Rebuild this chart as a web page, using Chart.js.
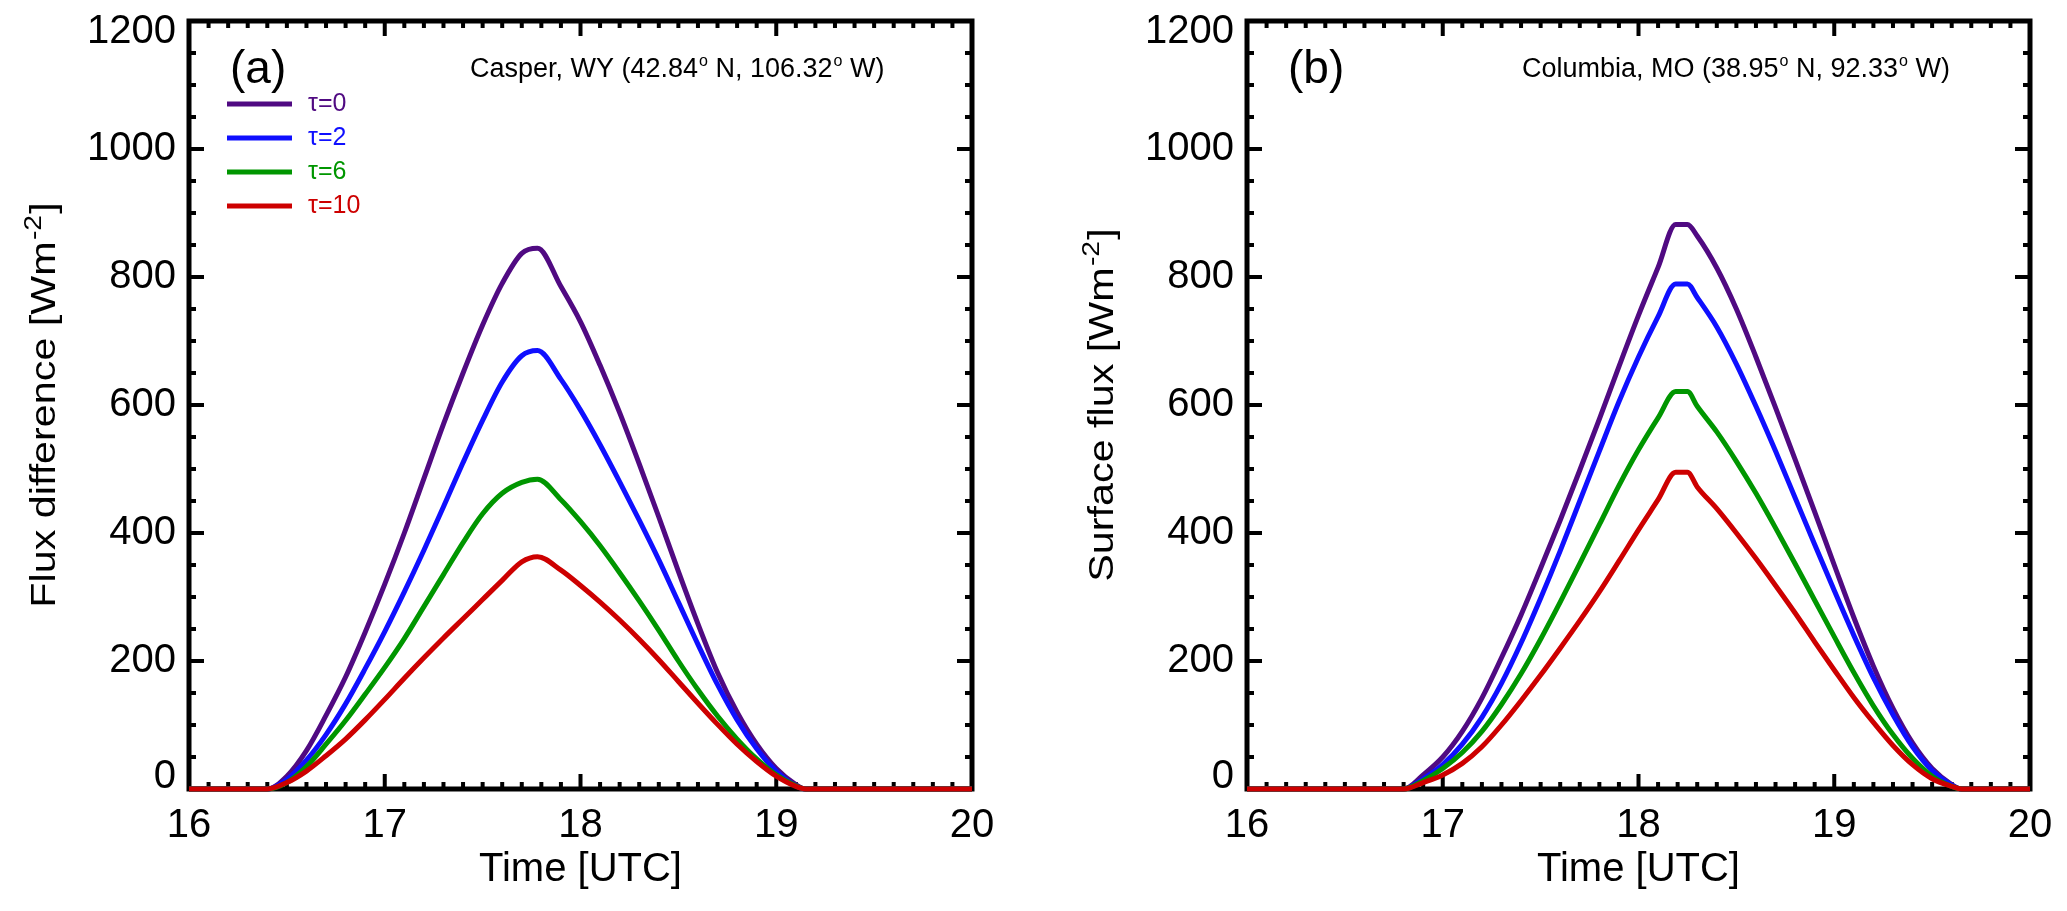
<!DOCTYPE html>
<html>
<head>
<meta charset="utf-8">
<style>
  body { margin: 0; background: #fff; width: 2067px; height: 911px; overflow: hidden; position: relative; }
  .panel { position: absolute; top: 0; width: 1009px; height: 911px; }
</style>
</head>
<body>
<div class="panel" style="left:0"><canvas id="chartA"></canvas></div>
<div class="panel" style="left:1058px"><canvas id="chartB"></canvas></div>

<script src="https://cdn.jsdelivr.net/npm/chart.js"></script>
<script>
  // (a) Casper, WY
  const hoursA  = [16, 16.4, 16.5, 16.6, 16.7, 16.8, 16.9, 17.0, 17.1, 17.2, 17.3, 17.4, 17.5, 17.6, 17.7, 17.78, 17.9, 18.0, 18.1, 18.2, 18.3, 18.4, 18.5, 18.6, 18.7, 18.8, 18.9, 19.0, 19.1, 19.15, 20];
  const tau0A   = [0, 0, 20, 60, 115, 175, 245, 320, 400, 485, 570, 650, 725, 790, 837, 845, 785, 730, 662, 588, 508, 425, 340, 258, 182, 120, 70, 32, 7, 0, 0];
  const tau2A   = [0, 0, 15, 45, 85, 133, 188, 246, 308, 373, 441, 510, 576, 636, 677, 685, 640, 592, 538, 480, 420, 358, 292, 226, 163, 108, 63, 28, 5, 0, 0];
  const tau6A   = [0, 0, 10, 35, 70, 107, 148, 190, 235, 285, 335, 385, 430, 462, 479, 484, 452, 418, 380, 338, 294, 248, 200, 155, 114, 78, 47, 22, 5, 0, 0];
  const tau10A  = [0, 0, 10, 28, 52, 78, 108, 140, 173, 205, 236, 266, 296, 326, 355, 363, 342, 318, 292, 264, 234, 202, 168, 134, 101, 70, 43, 20, 4, 0, 0];

  // (b) Columbia, MO
  const hoursB  = [16, 16.8, 16.9, 17.0, 17.1, 17.2, 17.3, 17.4, 17.5, 17.6, 17.7, 17.8, 17.9, 18.0, 18.1, 18.19, 18.25, 18.3, 18.4, 18.5, 18.6, 18.7, 18.8, 18.9, 19.0, 19.1, 19.2, 19.3, 19.4, 19.5, 19.6, 19.65, 20];
  const tau0B   = [0, 0, 22, 50, 90, 142, 205, 272, 345, 420, 498, 578, 660, 740, 815, 882, 882, 864, 814, 750, 675, 596, 515, 433, 350, 268, 192, 126, 72, 32, 7, 0, 0];
  const tau2B   = [0, 0, 16, 38, 70, 112, 165, 228, 298, 372, 450, 528, 605, 675, 738, 789, 789, 768, 722, 664, 598, 528, 455, 382, 310, 240, 174, 116, 66, 29, 6, 0, 0];
  const tau6B   = [0, 0, 13, 32, 57, 90, 132, 180, 234, 292, 352, 413, 474, 530, 580, 621, 621, 598, 558, 512, 462, 408, 352, 295, 238, 182, 130, 85, 48, 20, 4, 0, 0];
  const tau10B  = [0, 0, 10, 22, 40, 66, 100, 138, 178, 220, 263, 308, 356, 405, 452, 495, 495, 472, 438, 400, 360, 318, 275, 230, 186, 143, 104, 68, 38, 16, 4, 0, 0];

  const tauLabels = ['τ=0', 'τ=2', 'τ=6', 'τ=10'];
  const tauColors = ['rgb(80,10,130)', 'rgb(15,15,255)', 'rgb(0,150,0)', 'rgb(205,0,0)'];
  const xTicks = [16, 17, 18, 19, 20];
  const yTicks = [0, 200, 400, 600, 800, 1000, 1200];

  const FONT = "'Liberation Sans', Arial, Helvetica, sans-serif";

  // IDL-style frame: thick box, inward ticks on all four sides
  const idlFrame = {
    id: 'idlFrame',
    beforeDatasetsDraw(chart) {
      const { ctx, chartArea: a, scales: { x, y } } = chart;
      ctx.save();
      ctx.strokeStyle = '#000';
      ctx.lineWidth = 5;
      ctx.strokeRect(a.left, a.top, a.right - a.left, a.bottom - a.top);
      ctx.lineWidth = 4;
      ctx.beginPath();
      for (let k = 0; k <= 40; k++) {
        const px = x.getPixelForValue(x.min + k * 0.1);
        const len = k % 10 === 0 ? 15 : 7;
        ctx.moveTo(px, a.bottom); ctx.lineTo(px, a.bottom - len);
        ctx.moveTo(px, a.top); ctx.lineTo(px, a.top + len);
      }
      for (let v = y.min; v <= y.max; v += 50) {
        const py = y.getPixelForValue(v);
        const len = v % 200 === 0 ? 15 : 7;
        ctx.moveTo(a.left, py); ctx.lineTo(a.left + len, py);
        ctx.moveTo(a.right, py); ctx.lineTo(a.right - len, py);
      }
      ctx.stroke();
      ctx.restore();
    },
    afterDraw(chart, args, opts) {
      const { ctx, chartArea: a, scales: { y } } = chart;
      ctx.save();
      ctx.fillStyle = '#000';
      // y tick labels, end labels pulled inside the axis range like IDL does
      ctx.font = '40px ' + FONT;
      ctx.textAlign = 'right';
      ctx.textBaseline = 'middle';
      y.ticks.forEach(t => {
        let py = y.getPixelForValue(t.value);
        if (t.value === y.max) py += 11;
        if (t.value === y.min) py -= 12;
        ctx.fillText(String(t.value), a.left - 13, py);
      });

      // y axis title, rotated, with superscript exponent
      ctx.save();
      ctx.translate(55, (a.top + a.bottom) / 2);
      ctx.rotate(-Math.PI / 2);
      ctx.scale(1.18, 1);
      ctx.textAlign = 'left';
      ctx.textBaseline = 'alphabetic';
      ctx.font = '35px ' + FONT;
      const w1 = ctx.measureText(opts.yTitle[0]).width;
      const w3 = ctx.measureText(opts.yTitle[2]).width;
      ctx.font = '24px ' + FONT;
      const w2 = ctx.measureText(opts.yTitle[1]).width;
      const tx = -(w1 + w2 + w3 + 2) / 2;
      ctx.font = '35px ' + FONT;
      ctx.fillText(opts.yTitle[0], tx, 0);
      ctx.font = '24px ' + FONT;
      ctx.fillText(opts.yTitle[1], tx + w1 + 1, -14);
      ctx.font = '35px ' + FONT;
      ctx.fillText(opts.yTitle[2], tx + w1 + w2 + 2, 0);
      ctx.restore();

      // panel tag
      ctx.textAlign = 'left';
      ctx.textBaseline = 'alphabetic';
      ctx.font = '46px ' + FONT;
      ctx.fillText(opts.tag, a.left + 41, a.top + 62);

      // site name with superscript "o" for degrees
      let cx = a.left + opts.placeX;
      const by = a.top + 56;
      opts.place.split('°').forEach((part, i, arr) => {
        ctx.font = '27px ' + FONT;
        ctx.fillText(part, cx, by);
        cx += ctx.measureText(part).width;
        if (i < arr.length - 1) {
          ctx.font = '16px ' + FONT;
          ctx.fillText('o', cx + 1, by - 11);
          cx += ctx.measureText('o').width + 1;
        }
      });

      // legend
      if (opts.legend) {
        chart.data.datasets.forEach((ds, i) => {
          const ly = a.top + 83 + i * 34;
          ctx.strokeStyle = ds.borderColor;
          ctx.lineWidth = 5;
          ctx.beginPath();
          ctx.moveTo(a.left + 38, ly);
          ctx.lineTo(a.left + 103, ly);
          ctx.stroke();
          ctx.fillStyle = ds.borderColor;
          ctx.font = '25px ' + FONT;
          ctx.textBaseline = 'middle';
          ctx.fillText(ds.label, a.left + 119, ly);
          ctx.textBaseline = 'alphabetic';
        });
      }
      ctx.restore();
    }
  };

  function makePanel(id, hours, series, yTitle, tag, place, placeX, legend) {
    const datasets = series.map((vals, i) => ({
      label: tauLabels[i],
      data: hours.map((h, j) => ({ x: h, y: vals[j] })),
      borderColor: tauColors[i],
      backgroundColor: tauColors[i],
      borderWidth: 5,
      pointRadius: 0,
      cubicInterpolationMode: 'monotone',
      fill: false,
      clip: false,
      order: series.length - 1 - i
    }));

    return new Chart(document.getElementById(id), {
      type: 'line',
      data: { datasets },
      options: {
        responsive: true,
        maintainAspectRatio: false,
        animation: false,
        layout: { padding: { top: 21, right: 37, left: 0, bottom: 0 } },
        plugins: {
          legend: { display: false },
          tooltip: { enabled: false },
          idlFrame: { tag, place, placeX, legend, yTitle }
        },
        scales: {
          x: {
            type: 'linear',
            min: xTicks[0],
            max: xTicks[xTicks.length - 1],
            afterBuildTicks: s => { s.ticks = xTicks.map(v => ({ value: v })); },
            grid: { display: false, drawTicks: false },
            border: { display: false },
            ticks: { color: '#000', font: { family: FONT, size: 40 }, padding: 13, maxRotation: 0 },
            title: { display: true, text: 'Time [UTC]', color: '#000', font: { family: FONT, size: 40 }, padding: { top: 0, bottom: 17 } },
            afterFit: s => { s.height = 122; }
          },
          y: {
            min: yTicks[0],
            max: yTicks[yTicks.length - 1],
            afterBuildTicks: s => { s.ticks = yTicks.map(v => ({ value: v })); },
            grid: { display: false, drawTicks: false },
            border: { display: false },
            ticks: { display: false },
            afterFit: s => { s.width = 189; }
          }
        }
      },
      plugins: [idlFrame]
    });
  }

  makePanel('chartA', hoursA, [tau0A, tau2A, tau6A, tau10A], ['Flux difference [Wm', '-2', ']'], '(a)', 'Casper, WY (42.84° N, 106.32° W)', 281, true);
  makePanel('chartB', hoursB, [tau0B, tau2B, tau6B, tau10B], ['Surface flux [Wm', '-2', ']'], '(b)', 'Columbia, MO (38.95° N, 92.33° W)', 275, false);
</script>
</body>
</html>
